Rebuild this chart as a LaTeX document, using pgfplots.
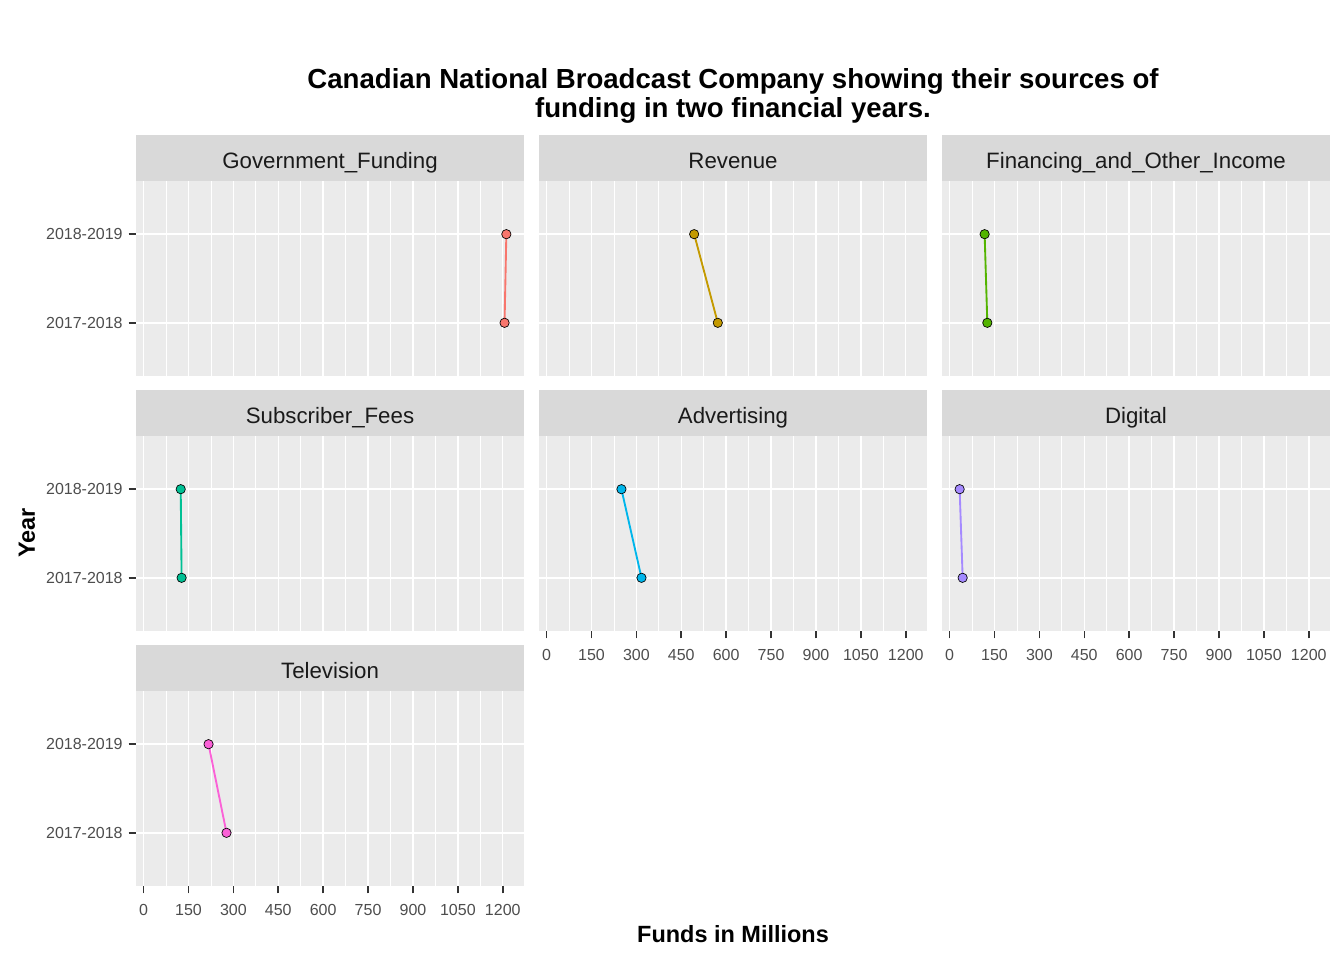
\documentclass[border=0pt]{standalone}
\usepackage{fontspec}
\setmainfont{Liberation Sans}
\usepackage{pgfplots}
\pgfplotsset{compat=1.18}

\definecolor{panelbg}{HTML}{EBEBEB}
\definecolor{stripbg}{HTML}{D9D9D9}
\definecolor{tickc}{HTML}{333333}
\definecolor{ticklab}{HTML}{4D4D4D}
\definecolor{striptxt}{HTML}{1A1A1A}
\definecolor{cA}{HTML}{F8766D}
\definecolor{cB}{HTML}{C49A00}
\definecolor{cC}{HTML}{53B400}
\definecolor{cD}{HTML}{00C094}
\definecolor{cE}{HTML}{00B6EB}
\definecolor{cF}{HTML}{A58AFF}
\definecolor{cG}{HTML}{FB61D7}

% 1px of the reference = 0.75pt
\pgfplotsset{
  panel/.style={
    at={#1}, anchor=south west,
    scale only axis, width=291pt, height=146.25pt,
    xmin=-25.4, xmax=1271, ymin=0.4, ymax=2.6,
    axis background/.style={fill=panelbg},
    axis line style={draw=none},
    xtick={0,150,...,1200}, minor xtick={75,225,...,1125},
    ytick={1,2}, yticklabels={2017-2018,2018-2019},
    grid=both,
    major grid style={white, line width=1.1pt},
    minor grid style={white, line width=0.55pt},
    tick align=outside, tick pos=left,
    major tick length=5.5pt, minor tick length=0pt,
    tick style={color=tickc, line width=1.2pt},
    ticklabel style={font=\fontsize{12}{12}\selectfont, text=ticklab},
    xticklabel style={yshift=-4.5pt},
    yticklabel style={xshift=-1pt},
    /pgf/number format/assume math mode=true,
    /pgf/number format/1000 sep={},
    every axis title/.style={at={(0.5,1)}, anchor=south, fill=stripbg,
      minimum width=291pt, minimum height=34.5pt, inner sep=0pt,
      text height=16.5pt, text depth=0pt,
      font=\fontsize{16.7}{16.7}\selectfont, text=striptxt},
  },
  nox/.style={xticklabels={}, xtick style={draw=none}},
  noy/.style={yticklabels={}, ytick style={draw=none}},
  ser/.style={color=#1, line width=1.4pt, mark=*, mark size=3.5pt,
    mark options={fill=#1, draw=black, line width=0.5pt}},
}

\begin{document}
\begin{tikzpicture}
\path[use as bounding box] (0,0) rectangle (1008pt,720pt);

% row 1
\begin{axis}[panel={(102pt,438pt)}, nox, title={Government\_Funding}]
\addplot[ser=cA] coordinates {(1206,1) (1212,2)};
\end{axis}
\begin{axis}[panel={(404.25pt,438pt)}, nox, noy, title={Revenue}]
\addplot[ser=cB] coordinates {(572,1) (493,2)};
\end{axis}
\begin{axis}[panel={(706.5pt,438pt)}, nox, noy, title={Financing\_and\_Other\_Income}]
\addplot[ser=cC] coordinates {(126,1) (117,2)};
\end{axis}

% row 2
\begin{axis}[panel={(102pt,246.75pt)}, nox, title={Subscriber\_Fees}]
\addplot[ser=cD] coordinates {(127,1) (124,2)};
\end{axis}
\begin{axis}[panel={(404.25pt,246.75pt)}, noy, title={Advertising}]
\addplot[ser=cE] coordinates {(317,1) (250,2)};
\end{axis}
\begin{axis}[panel={(706.5pt,246.75pt)}, noy, title={Digital}]
\addplot[ser=cF] coordinates {(43.6,1) (33.5,2)};
\end{axis}

% row 3
\begin{axis}[panel={(102pt,55.5pt)}, title={Television}]
\addplot[ser=cG] coordinates {(277,1) (217,2)};
\end{axis}

\node[align=center, font=\fontsize{20.7}{21.75}\selectfont\bfseries] at (549.75pt,648pt)
  {Canadian National Broadcast Company showing their sources of\\funding in two financial years.};
\node[font=\fontsize{17.6}{17.6}\selectfont\bfseries] at (549.75pt,19.5pt) {Funds in Millions};
\node[rotate=90, font=\fontsize{17.6}{17.6}\selectfont\bfseries] at (20.25pt,320.25pt) {Year};
\end{tikzpicture}
\end{document}
